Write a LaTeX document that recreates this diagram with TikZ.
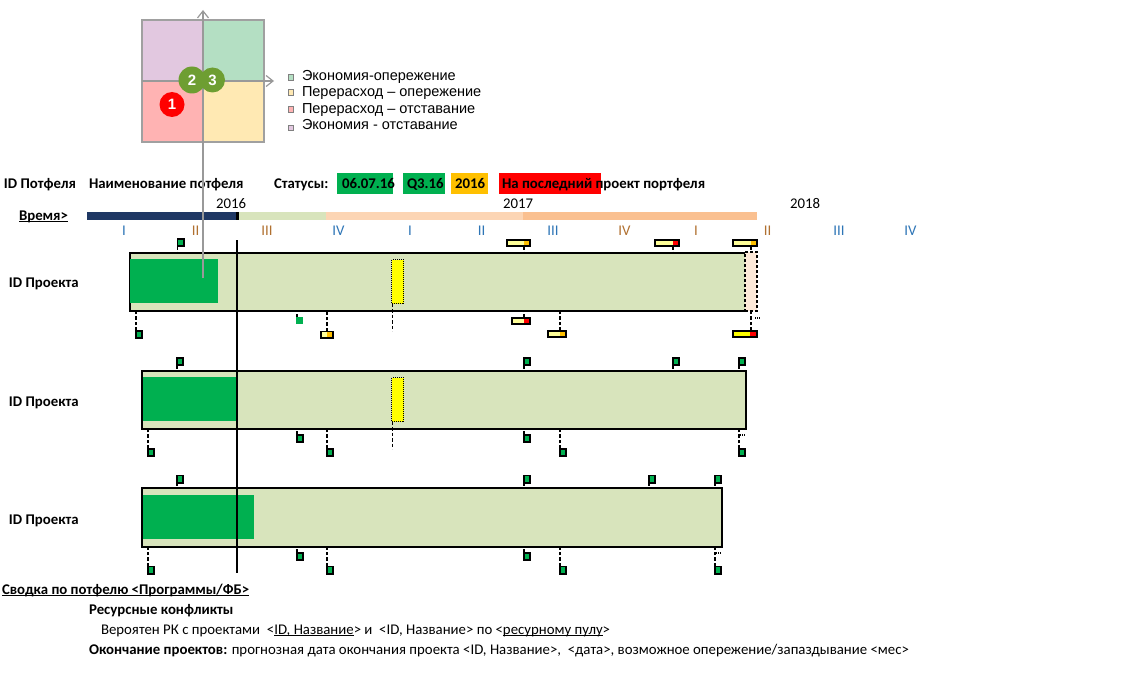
\documentclass[tikz,border=0pt]{standalone}
\usepackage{fontspec}
\setmainfont{Carlito}
\newfontfamily\arialf{Liberation Sans}
\usetikzlibrary{arrows.meta}
\definecolor{barfill}{HTML}{D8E4BC}
\definecolor{pgreen}{HTML}{00B050}
\definecolor{lyel}{HTML}{FFFF99}
\definecolor{yel}{HTML}{FFFF00}
\definecolor{org}{HTML}{FFC000}
\definecolor{redc}{HTML}{FF0000}
\definecolor{peach}{HTML}{FDE9D9}
\definecolor{navy}{HTML}{1F3864}
\definecolor{tlb}{HTML}{FCD5B4}
\definecolor{tlc}{HTML}{FAC090}
\definecolor{qpur}{HTML}{E2C8E0}
\definecolor{qgrn}{HTML}{B4DFC3}
\definecolor{qpnk}{HTML}{FFB3B3}
\definecolor{qyel}{HTML}{FFE9B3}
\definecolor{qgray}{HTML}{A0A0A0}
\definecolor{axgray}{HTML}{999999}
\definecolor{cgrn}{HTML}{6E9E32}
\definecolor{qblue}{HTML}{2E75B6}
\definecolor{qbrown}{HTML}{B07030}
\newsavebox\ulbox
\newcommand\myul[1]{\sbox\ulbox{#1}\leavevmode\rlap{\rule[-2.3pt]{\wd\ulbox}{0.9pt}}\usebox\ulbox}
\begin{document}
\begin{tikzpicture}[x=1pt,y=-1pt,
  every node/.style={inner sep=0pt, outer sep=0pt},
  txt/.style={font=\fontsize{14.8}{17}\selectfont, anchor=base west},
  btxt/.style={font=\fontsize{14.8}{17}\selectfont\bfseries, anchor=base west},
  ltxt/.style={font=\arialf\fontsize{14.5}{16}\selectfont, anchor=base west},
  quad/.style={draw=qgray, line width=1.2pt, minimum width=61pt, minimum height=61pt, anchor=north west},
  lsq/.style={draw=qgray!80!black, line width=0.8pt, minimum width=5.5pt, minimum height=5.5pt},
  axln/.style={draw=axgray, line width=2.5pt},
  num/.style={circle, minimum size=25pt, text=white, font=\arialf\bfseries\fontsize{15}{15}\selectfont},
  sbox/.style={minimum height=21pt, anchor=north west},
  barbg/.style={fill=barfill, anchor=north west},
  barln/.style={draw=black, line width=2pt},
  prog/.style={fill=pgreen, anchor=north west},
  ydot/.style={fill=yel, draw=black, line width=1.3pt, dash pattern=on 1pt off 1pt, anchor=north west, minimum width=12pt, minimum height=44pt},
  gm/.style={draw=black, line width=1.6pt, fill=pgreen, minimum width=6.4pt, minimum height=7.4pt},
  tbox/.style n args={4}{draw=black, line width=1.6pt, fill=#1, minimum width=#3, minimum height=6.4pt,
     path picture={\fill[#2] ([xshift=-#4]path picture bounding box.north east) rectangle (path picture bounding box.south east);}},
  connl/.style={draw=black, line width=1.6pt, dash pattern=on 3.5pt off 2pt},
]
\useasboundingbox (0,0) rectangle (1126,682);

% ---------- quadrant chart ----------
\node[quad, fill=qpur] (qtl) at (142,20) {};
\node[quad, fill=qgrn] (qtr) at (203,20) {};
\node[quad, fill=qpnk] (qbl) at (142,81) {};
\node[quad, fill=qyel] (qbr) at (203,81) {};

% ---------- legend ----------
\node[lsq, fill=qgrn] (l1) at (291,77.5) {};
\node[lsq, fill=qyel] (l2) at (291,92.5) {};
\node[lsq, fill=qpnk] (l3) at (291,109.5) {};
\node[lsq, fill=qpur] (l4) at (291,128) {};
\node[ltxt] (lt1) at (302,81) {Экономия-опережение};
\node[ltxt] (lt2) at (302,97) {Перерасход – опережение};
\node[ltxt] (lt3) at (302,113.5) {Перерасход – отставание};
\node[ltxt] (lt4) at (302,129.5) {Экономия - отставание};

% ---------- header ----------
\node[btxt] (h1) at (4,188) {ID Потфеля};
\node[btxt] (h2) at (89,188) {Наименование потфеля};
\node[btxt] (h3) at (274,188) {Статусы:};
\node[sbox, fill=pgreen, minimum width=56pt] (s1) at (337,172.5) {};
\node[sbox, fill=pgreen, minimum width=42pt] (s2) at (403,172.5) {};
\node[sbox, fill=org, minimum width=37pt] (s3) at (451,172.5) {};
\node[sbox, fill=redc, minimum width=102pt] (s4) at (499,172.5) {};
\node[btxt] (st1) at (342,188) {06.07.16};
\node[btxt] (st2) at (407,188) {Q3.16};
\node[btxt] (st3) at (455,188) {2016};
\node[btxt] (st4) at (502,188) {На последний проект портфеля};

% ---------- time scale ----------
\node[btxt] (tm) at (19,220) {\myul{Время>}};
\fill[navy] (87,212) rectangle (237,220);
\fill[barfill] (237,212) rectangle (326,220);
\fill[tlb] (326,212) rectangle (523,220);
\fill[tlc] (523,212) rectangle (757,220);
\fill[black] (236,212) rectangle (238.5,220);
\node[txt, anchor=base] (y16) at (231,208) {2016};
\node[txt, anchor=base] (y17) at (518,208) {2017};
\node[txt, anchor=base] (y18) at (805,208) {2018};
\foreach \qx/\ql/\qc [count=\qi] in {124/I/qblue, 195.5/II/qbrown, 267/III/qbrown, 338.5/IV/qblue,
   410/I/qblue, 481.5/II/qblue, 553/III/qblue, 624.5/IV/qbrown, 696/I/qbrown, 767.5/II/qbrown,
   839/III/qblue, 910.5/IV/qblue}
  \node[txt, anchor=base, text=\qc] (q\qi) at (\qx,235) {\ql};

% ---------- project bars ----------
\node[btxt] (p1l) at (9,287) {ID Проекта};
\node[btxt] (p2l) at (9,406) {ID Проекта};
\node[btxt] (p3l) at (9,524) {ID Проекта};

\node[barbg, minimum width=616pt, minimum height=58pt] (bar1) at (130,253) {};
\draw[barln] (bar1.north east) -- (bar1.north west) -- (bar1.south west) -- (bar1.south east);
\node[prog, minimum width=88pt, minimum height=44pt] (pr1) at (130,259) {};
\node[ydot] (yd1) at (391.5,259.5) {};
\node[fill=peach, draw=black, line width=1.5pt, dash pattern=on 3pt off 2pt, anchor=north west,
      minimum width=12pt, minimum height=59pt] (ex1) at (745,252) {};

\node[barbg, barln, minimum width=604pt, minimum height=58pt] (bar2) at (142,371) {};
\node[prog, minimum width=95pt, minimum height=44pt] (pr2) at (143,377) {};
\node[ydot] (yd2) at (391.5,377.5) {};

\node[barbg, barln, minimum width=580pt, minimum height=59pt] (bar3) at (142,488) {};
\node[prog, minimum width=111pt, minimum height=44pt] (pr3) at (143,495) {};

% ---------- milestones: green squares ----------
\foreach \n/\px/\py/\an/\tg in {
  a/180.5/242.5/south/bar1.north, b/139/334.5/north/bar1.south,
  c/180/361.5/south/bar2.north, d/527/361.5/south/bar2.north, e/676/361.5/south/bar2.north, f/742/361.5/south/bar2.north,
  g/151/452.5/north/bar2.south, h/300/438.5/north/bar2.south, i/330/452.5/north/bar2.south,
  j/527/438.5/north/bar2.south, k/563/452.5/north/bar2.south, l/742/452.5/north/bar2.south,
  m/180/479/south/bar3.north, n/527/479/south/bar3.north, o/652/479/south/bar3.north, p/718/479/south/bar3.north,
  q/151/570/north/bar3.south, r/300/556.5/north/bar3.south, s/330/570/north/bar3.south,
  t/527/556.5/north/bar3.south, u/563/570/north/bar3.south, v/718/570/north/bar3.south}{
  \node[gm] (g\n) at (\px,\py) {};
  \path ([xshift=-3pt]g\n.\an) coordinate (tmp);
  \draw[connl] (tmp) -- (tmp |- \tg);
}

% plain green square
\node[fill=pgreen, minimum size=7pt] (gpl) at (299.5,320.5) {};
\path ([xshift=-2.5pt]gpl.north) coordinate (tmpg);
\draw[connl] (tmpg) -- (tmpg |- bar1.south);

% ---------- milestones: coloured boxes ----------
\foreach \n/\px/\py/\ca/\cb/\w/\cw/\dx/\an/\tg in {
  A/518.5/243/lyel/org/23.4pt/6pt/5.5pt/south/bar1.north,
  B/667/243/lyel/redc/24.4pt/6pt/6pt/south/bar1.north,
  C/745/243/lyel/org/24.4pt/6pt/6pt/south/bar1.north,
  D/327/334.5/lyel/org/12.4pt/6.2pt/0pt/north/bar1.south,
  E/521/321/lyel/redc/18.4pt/6pt/3pt/north/bar1.south,
  F/557/334/lyel/org/18.4pt/6pt/3pt/north/bar1.south,
  G/745/334/yel/redc/24.4pt/7pt/6pt/north/bar1.south}{
  \node[tbox={\ca}{\cb}{\w}{\cw}] (b\n) at (\px,\py) {};
  \path ([xshift=\dx]b\n.\an) coordinate (tmp);
  \draw[connl] (tmp) -- (tmp |- \tg);
}

% dashed drops without markers
\coordinate (dr1) at (392.5,331);
\coordinate (dr2) at (392.5,449);
\draw[connl] ([xshift=1pt]yd1.south west) -- (dr1);
\draw[connl] ([xshift=1pt]yd2.south west) -- (dr2);

% tiny dotted marks
\draw[black, line width=1.2pt, dash pattern=on 1pt off 1pt] (755,318) -- (761,318);
\draw[black, line width=1.2pt, dash pattern=on 1pt off 1pt] (740,435) -- (746,435);
\draw[black, line width=1.2pt, dash pattern=on 1pt off 1pt] (716,553) -- (722,553);

% current date line
\coordinate (nowT) at (237,240);
\coordinate (nowB) at (237,573);
\draw[black, line width=1.6pt] (nowT) -- (nowB);

% ---------- quadrant axes (over everything) ----------
\coordinate (yt) at (203,10);
\coordinate (yb) at (203,278);
\coordinate (xl) at (142,81);
\coordinate (xr) at (274,81);
\draw[axln, -{Straight Barb[length=7pt,width=11pt,line width=1.2pt]}] (yb) -- (yt);
\draw[axln, -{Straight Barb[length=7pt,width=11pt,line width=1.2pt]}] (xl) -- (xr);
\node[num, fill=redc] (c1) at (172,104.5) {1};
\node[num, fill=cgrn, minimum size=27pt] (c2) at (192,80) {2};
\node[num, fill=cgrn] (c3) at (212.5,80) {3};

% ---------- summary ----------
\node[btxt] (sm1) at (2,594) {\myul{Сводка по потфелю <Программы/ФБ>}};
\node[btxt] (sm2) at (89,614) {Ресурсные конфликты};
\node[txt] (sm3) at (101,634) {Вероятен РК с проектами\ \ <\myul{ID, Название}> и\ \ <ID, Название> по <\myul{ресурному пулу}>};
\node[txt] (sm4) at (89,654) {\textbf{Окончание проектов:} прогнозная дата окончания проекта <ID, Название>,\ \ <дата>, возможное опережение/запаздывание <мес>};
\end{tikzpicture}
\end{document}
